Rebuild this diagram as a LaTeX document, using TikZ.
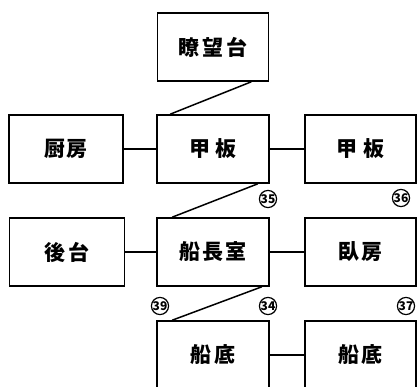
\documentclass[tikz,border=0pt]{standalone}
\usepackage{fontspec}
\newfontfamily\cjk{Noto Sans CJK JP}
\begin{document}
\begin{tikzpicture}[x=1pt,y=-1pt,
  room/.style={draw=black,line width=1.6pt,fill=white,rectangle,inner sep=0pt,font=\cjk\bfseries\fontsize{21}{21}\selectfont},
  link/.style={line width=1.5pt,draw=black},
  num/.style={draw=black,line width=1.2pt,circle,minimum size=17pt,inner sep=0pt,font=\cjk\bfseries\fontsize{12}{12}\selectfont}]
\useasboundingbox (0,0) rectangle (418,387);
% row 1
\node[room,minimum width=111pt,minimum height=68pt] (lookout) at (213,47) {瞭\hspace{3pt}望\hspace{3pt}台};
% row 2
\node[room,minimum width=114pt,minimum height=68pt] (kitchen) at (66,149) {厨\hspace{1pt}房};
\node[room,minimum width=112pt,minimum height=68pt] (deck) at (213,149) {甲\hspace{6pt}板};
\node[room,minimum width=111pt,minimum height=68pt] (deckR) at (360.5,149) {甲\hspace{6pt}板};
% row 3
\node[room,minimum width=115pt,minimum height=68pt] (rear) at (67,252) {後\hspace{4pt}台};
\node[room,minimum width=112pt,minimum height=68pt] (captain) at (213,252) {船\hspace{2pt}長\hspace{2pt}室};
\node[room,minimum width=111pt,minimum height=68pt] (bedroom) at (360.5,252) {臥\hspace{2pt}房};
% row 4
\node[room,minimum width=112pt,minimum height=68pt] (bottom) at (213,355) {船\hspace{3pt}底};
\node[room,minimum width=111pt,minimum height=68pt] (bottomR) at (360.5,355) {船\hspace{3pt}底};
% connectors
\draw[link] ([xshift=-18pt]lookout.south east) -- ([xshift=14pt]deck.north west);
\draw[link] ([xshift=-12pt]deck.south east) -- ([xshift=16pt]captain.north west);
\draw[link] ([xshift=-8pt]captain.south east) -- ([xshift=16pt]bottom.north west);
\draw[link] (kitchen) -- (deck);
\draw[link] (deck) -- (deckR);
\draw[link] (rear) -- (captain);
\draw[link] (captain) -- (bedroom);
\draw[link] (bottom) -- (bottomR);
% numbers
\node[num] (n35) at (268,199) {35};
\node[num] (n36) at (401,198) {36};
\node[num] (n39) at (160,306) {39};
\node[num] (n34) at (268,306) {34};
\node[num] (n37) at (406,306) {37};
\end{tikzpicture}
\end{document}
